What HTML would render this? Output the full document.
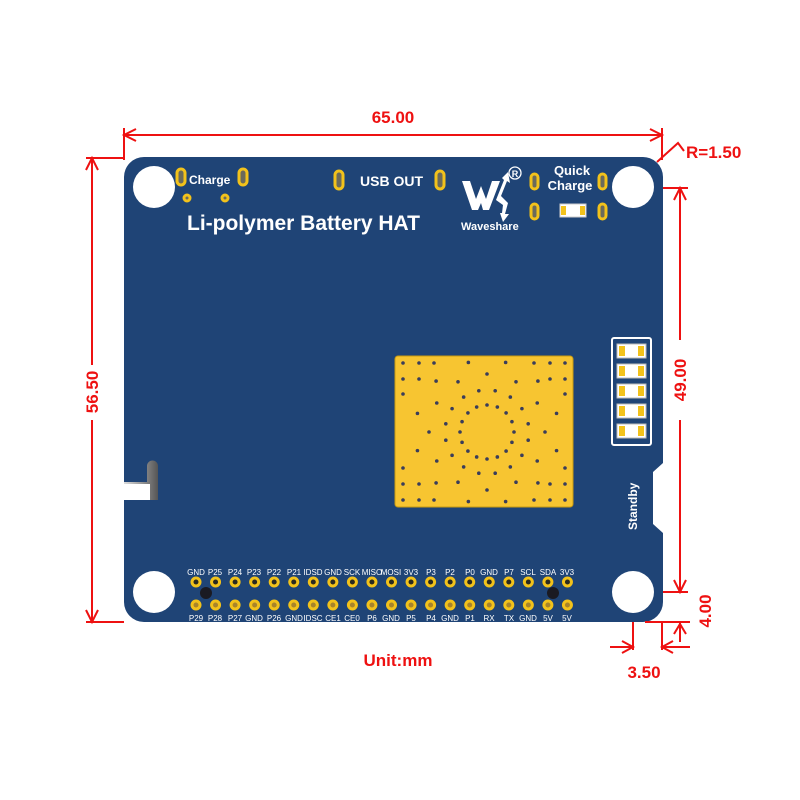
<!DOCTYPE html>
<html><head><meta charset="utf-8"><style>
html,body{margin:0;padding:0;background:#fff;width:800px;height:800px;overflow:hidden}
svg{display:block}
.r{fill:#ee1111;font-family:"Liberation Sans",sans-serif;font-weight:bold;font-size:17px}
.w{fill:#fff;font-family:"Liberation Sans",sans-serif;font-weight:bold}
.p{fill:#fff;font-family:"Liberation Sans",sans-serif;font-size:8px;text-anchor:middle}
</style></head><body>
<svg id="s" width="800" height="800" viewBox="0 0 800 800" xmlns="http://www.w3.org/2000/svg">
<defs>
<linearGradient id="sl" x1="0" y1="0" x2="1" y2="0"><stop offset="0" stop-color="#ddd"/><stop offset="1" stop-color="#555"/></linearGradient>
</defs>
<path d="M144 157 H642 A20 20 0 0 1 663 177 V463 L653 472 V524 L663 533 V602 A20 20 0 0 1 643 622 H144 A20 20 0 0 1 124 602 V177 A20 20 0 0 1 144 157 Z" fill="#1f4476"/>
<path d="M124 482 H147 V466 A5 5 0 0 1 158 466 V500 H124 Z" fill="url(#sl)"/>
<path d="M124 484 H150 V500 H124 Z" fill="#fff"/>
<circle cx="154" cy="187" r="21" fill="#fff"/>
<circle cx="633" cy="187" r="21" fill="#fff"/>
<circle cx="154" cy="592" r="21" fill="#fff"/>
<circle cx="633" cy="592" r="21" fill="#fff"/>
<g fill="#6b6a5a" stroke="#f2c21b" stroke-width="3">
<rect x="177" y="169" width="8" height="16" rx="4"/><rect x="239" y="169" width="8" height="16" rx="4"/>
<rect x="335" y="171" width="8" height="18" rx="4"/><rect x="436" y="171" width="8" height="18" rx="4"/>
<rect x="531" y="174" width="7" height="15" rx="3.5"/><rect x="599" y="174" width="7" height="15" rx="3.5"/>
<rect x="531" y="204" width="7" height="15" rx="3.5"/><rect x="599" y="204" width="7" height="15" rx="3.5"/>
<circle cx="187" cy="198" r="3"/><circle cx="225" cy="198" r="3"/>
</g>
<rect x="560" y="204" width="26" height="13" fill="#fff" stroke="#ccc"/>
<rect x="561" y="206" width="5" height="9" fill="#f2c21b"/><rect x="580" y="206" width="5" height="9" fill="#f2c21b"/>
<text class="w" x="189" y="184" font-size="12">Charge</text>
<text class="w" x="360" y="186" font-size="14">USB OUT</text>
<text class="w" x="187" y="230" font-size="21">Li-polymer Battery HAT</text>
<text class="w" x="461" y="230" font-size="11">Waveshare</text>
<text class="w" x="572" y="175" font-size="13" text-anchor="middle">Quick</text>
<text class="w" x="570" y="190" font-size="13" text-anchor="middle">Charge</text>
<path d="M462 181 L470 181 L476 199 L481 186 L486 199 L492 181 L500 181 L489 210 L483 210 L481 203 L478 210 L472 210 Z" fill="#fff"/>
<path d="M496 200 L504 180 L502 178 L508 172 L510 183 L507 181 L501 196 L508 203 L505 214 L509 214 L503 222 L500 213 L502 213 L503 205 Z" fill="#fff"/>
<circle cx="515" cy="173" r="6" fill="none" stroke="#fff" stroke-width="1.3"/>
<text class="w" x="515" y="177" font-size="9" text-anchor="middle">R</text>
<rect x="612" y="338" width="39" height="107" rx="2" fill="none" stroke="#fff" stroke-width="2"/>
<g id="leds"></g>
<text class="w" font-size="12" transform="translate(637,530) rotate(-90)">Standby</text>
<rect x="395" y="356" width="178" height="151" rx="3" fill="#f7c531" stroke="#c99a10"/>
<g id="dots" fill="#3a3d5a"></g>
<g id="pins"></g>
<g>
<text class="p" x="196" y="575">GND</text><text class="p" x="215" y="575">P25</text><text class="p" x="235" y="575">P24</text><text class="p" x="254" y="575">P23</text><text class="p" x="274" y="575">P22</text><text class="p" x="294" y="575">P21</text><text class="p" x="313" y="575">IDSD</text><text class="p" x="333" y="575">GND</text><text class="p" x="352" y="575">SCK</text><text class="p" x="372" y="575">MISO</text><text class="p" x="391" y="575">MOSI</text><text class="p" x="411" y="575">3V3</text><text class="p" x="431" y="575">P3</text><text class="p" x="450" y="575">P2</text><text class="p" x="470" y="575">P0</text><text class="p" x="489" y="575">GND</text><text class="p" x="509" y="575">P7</text><text class="p" x="528" y="575">SCL</text><text class="p" x="548" y="575">SDA</text><text class="p" x="567" y="575">3V3</text>
<text class="p" x="196" y="621">P29</text><text class="p" x="215" y="621">P28</text><text class="p" x="235" y="621">P27</text><text class="p" x="254" y="621">GND</text><text class="p" x="274" y="621">P26</text><text class="p" x="294" y="621">GND</text><text class="p" x="313" y="621">IDSC</text><text class="p" x="333" y="621">CE1</text><text class="p" x="352" y="621">CE0</text><text class="p" x="372" y="621">P6</text><text class="p" x="391" y="621">GND</text><text class="p" x="411" y="621">P5</text><text class="p" x="431" y="621">P4</text><text class="p" x="450" y="621">GND</text><text class="p" x="470" y="621">P1</text><text class="p" x="489" y="621">RX</text><text class="p" x="509" y="621">TX</text><text class="p" x="528" y="621">GND</text><text class="p" x="548" y="621">5V</text><text class="p" x="567" y="621">5V</text>
</g>
<circle cx="206" cy="593" r="6" fill="#1a1a22"/><circle cx="553" cy="593" r="6" fill="#1a1a22"/>
<g stroke="#ee1111" stroke-width="2" fill="none">
<line x1="124" y1="135" x2="662" y2="135"/>
<line x1="124" y1="128" x2="124" y2="160"/><line x1="662" y1="128" x2="662" y2="160"/>
<polyline points="136,129 124,135 136,141"/><polyline points="650,129 662,135 650,141"/>
<line x1="86" y1="158" x2="124" y2="158"/><line x1="86" y1="622" x2="124" y2="622"/>
<line x1="92" y1="158" x2="92" y2="365"/><line x1="92" y1="420" x2="92" y2="622"/>
<polyline points="86,170 92,158 98,170"/><polyline points="86,610 92,622 98,610"/>
<polyline points="657,162 678,143 684,151"/>
<line x1="663" y1="188" x2="688" y2="188"/><line x1="663" y1="592" x2="688" y2="592"/>
<line x1="680" y1="188" x2="680" y2="340"/><line x1="680" y1="420" x2="680" y2="592"/>
<polyline points="674,200 680,188 686,200"/><polyline points="674,580 680,592 686,580"/>
<line x1="645" y1="622" x2="690" y2="622"/>
<line x1="680" y1="622" x2="680" y2="642"/><polyline points="674,634 680,624 686,634"/>
<line x1="633" y1="622" x2="633" y2="650"/><line x1="662" y1="622" x2="662" y2="650"/>
<line x1="610" y1="647" x2="633" y2="647"/><polyline points="622,641 633,647 622,653"/>
<line x1="662" y1="647" x2="690" y2="647"/><polyline points="673,641 662,647 673,653"/>
</g>
<text class="r" x="393" y="123" text-anchor="middle">65.00</text>
<text class="r" transform="translate(98,392) rotate(-90)" text-anchor="middle">56.50</text>
<text class="r" transform="translate(686,380) rotate(-90)" text-anchor="middle">49.00</text>
<text class="r" transform="translate(711,611) rotate(-90)" text-anchor="middle">4.00</text>
<text class="r" x="686" y="158">R=1.50</text>
<text class="r" x="398" y="666" text-anchor="middle">Unit:mm</text>
<text class="r" x="644" y="678" text-anchor="middle">3.50</text>
</svg>
<script>
var NS="http://www.w3.org/2000/svg";
function el(p,t,a){var e=document.createElementNS(NS,t);for(var k in a)e.setAttribute(k,a[k]);p.appendChild(e);return e;}
var d=document.getElementById("dots"),cx=487,cy=432;
function ring(r,n,off){for(var i=0;i<n;i++){var a=(i+off)/n*2*Math.PI;el(d,"circle",{cx:cx+r*Math.cos(a),cy:cy+r*Math.sin(a),r:1.8});}}
ring(27,16,0);ring(42,16,0.5);ring(58,12,0);ring(72,12,0.5);
[[403,363],[419,363],[434,363],[403,379],[419,379],[403,394],[534,363],[550,363],[565,363],[550,379],[565,379],[565,394],
[403,468],[403,484],[419,484],[403,500],[419,500],[434,500],[565,468],[565,484],[550,484],[565,500],[550,500],[534,500]].forEach(function(p){el(d,"circle",{cx:p[0],cy:p[1],r:1.8});});
var pg=document.getElementById("pins");
for(var i=0;i<20;i++){var x=196+i*19.55;[582,605].forEach(function(y){el(pg,"circle",{cx:x,cy:y,r:5.5,fill:"#f2c21b"});el(pg,"circle",{cx:x,cy:y,r:2.5,fill:y==582?"#2a2a20":"#a8842a"});});}
var L=document.getElementById("leds");
for(var j=0;j<5;j++){var y=344+j*20;el(L,"rect",{x:617,y:y,width:29,height:14,fill:"#fff",stroke:"#bbb"});el(L,"rect",{x:619,y:y+2,width:6,height:10,fill:"#f2c21b"});el(L,"rect",{x:638,y:y+2,width:6,height:10,fill:"#f2c21b"});}
</script>
</body></html>
